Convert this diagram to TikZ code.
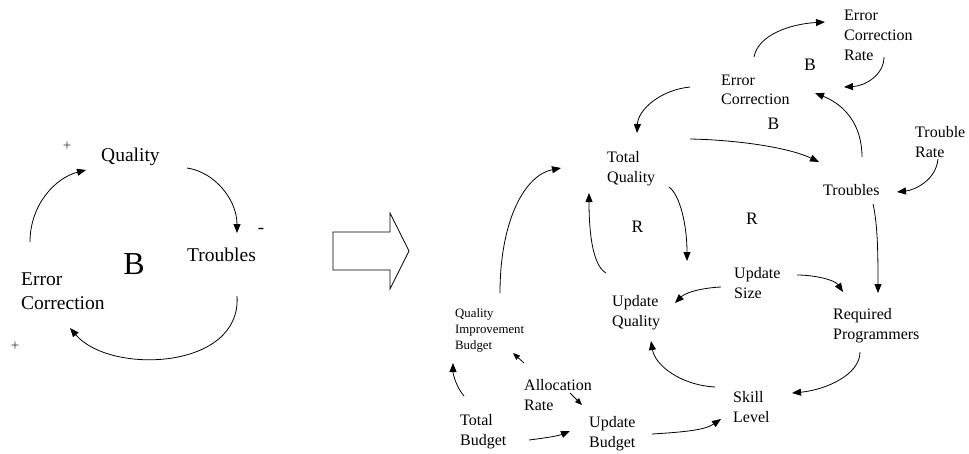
\documentclass[tikz,border=0pt]{standalone}
\usepackage{fontspec}
\setmainfont{Liberation Serif}
\usetikzlibrary{arrows.meta}
\tikzset{
  lbl/.style={inner sep=0pt, anchor=north west, align=left, font=\fontsize{16}{20}\selectfont},
  biglbl/.style={inner sep=0pt, anchor=north west, align=left, font=\fontsize{19.5}{24}\selectfont},
  smalllbl/.style={inner sep=0pt, anchor=north west, align=left, font=\fontsize{12.8}{16}\selectfont},
  looplbl/.style={inner sep=0pt, font=\fontsize{17.5}{20}\selectfont},
  sign/.style={inner sep=0pt, font=\fontsize{15}{16}\selectfont, text=black!80},
  link/.style={line width=0.8pt, -{Triangle[length=9pt,width=7pt]}},
  slink/.style={line width=0.8pt, -{Triangle[length=7pt,width=5.5pt]}},
}
\begin{document}
\begin{tikzpicture}[x=1pt,y=-1pt]
\useasboundingbox (0,0) rectangle (969,453);
% ---------- left diagram ----------
\node[biglbl] (lq) at (101,148) {Quality};
\node[biglbl] (lt) at (187,248) {Troubles};
\node[biglbl] (le) at (21,273) {Error\\Correction};
\node[inner sep=0pt, font=\fontsize{32}{36}\selectfont] (lb) at (134,264) {B};
\node[sign] (p1) at (67,146) {+};
\node[sign] (p2) at (15,346) {+};
\node[sign, font=\fontsize{19}{20}\selectfont, text=black] (m1) at (261,231) {-};
\draw[link] ([shift={(9,-31)}]le.north west) .. controls (30,205) and (55,178) .. ([shift={(-15,22)}]lq.north west);
\draw[link] ([shift={(86,20)}]lq.north west) .. controls (215,172) and (237,200) .. ([shift={(50,-15)}]lt.north west);
\draw[link] ([shift={(50,48)}]lt.north west) .. controls (242,370) and (110,375) .. ([shift={(49,55)}]le.north west);
% ---------- block arrow ----------
\draw[line width=0.8pt] (333,232) -- (390,232) -- (390,213) -- (409,251) -- (390,289) -- (390,270) -- (333,270) -- cycle;
% ---------- right diagram ----------
\node[lbl] (ecr) at (844,10) {Error\\Correction\\Rate};
\node[lbl, font=\fontsize{16}{19}\selectfont] (ec) at (721,75) {Error\\Correction};
\node[lbl] (tq) at (607,151) {Total\\Quality};
\node[lbl] (tr) at (915,126) {Trouble\\Rate};
\node[lbl] (tb) at (823,184) {Troubles};
\node[lbl] (us) at (734,267) {Update\\Size};
\node[lbl] (uq) at (612,295) {Update\\Quality};
\node[lbl] (rp) at (833,308) {Required\\Programmers};
\node[lbl] (sl) at (733,391) {Skill\\Level};
\node[lbl] (ar) at (524,379) {Allocation\\Rate};
\node[lbl] (tbud) at (460,414) {Total\\Budget};
\node[lbl] (ub) at (589,416) {Update\\Budget};
\node[smalllbl] (qib) at (455,308) {Quality\\Improvement\\Budget};
\node[looplbl] (b1) at (810,65) {B};
\node[looplbl] (b2) at (773.5,124) {B};
\node[looplbl] (r1) at (637.5,226.5) {R};
\node[looplbl] (r2) at (752,219) {R};
% connectors
\draw[link] ([shift={(33,-18)}]ec.north west) .. controls (758,35) and (790,24) .. ([shift={(-19,12)}]ecr.north west);
\draw[link] ([shift={(40,47)}]ecr.north west) .. controls (884,75) and (865,86) .. ([shift={(123,12)}]ec.north west);
\draw[link] ([shift={(39,-27)}]tb.north west) .. controls (862,125) and (845,105) .. ([shift={(94,18)}]ec.north west);
\draw[link] ([shift={(-31,12)}]ec.north west) .. controls (660,90) and (638,110) .. ([shift={(30,-18)}]tq.north west);
\draw[link] ([shift={(83,-12)}]tq.north west) .. controls (740,140) and (790,148) .. ([shift={(-4,-22)}]tb.north west);
\draw[link] ([shift={(23,33)}]tr.north west) .. controls (936,180) and (915,190) .. ([shift={(74,8)}]tb.north west);
\draw[link] ([shift={(45,-15)}]qib.north west) .. controls (500,220) and (525,175) .. ([shift={(-46,17)}]tq.north west);
\draw[link] ([shift={(62,36)}]tq.north west) .. controls (680,195) and (687,225) .. ([shift={(75,-34)}]uq.north west);
\draw[link] ([shift={(-6,-22)}]uq.north west) .. controls (592,265) and (589,230) .. ([shift={(-18,42)}]tq.north west);
\draw[link] ([shift={(50,20)}]tb.north west) .. controls (878,225) and (878,260) .. ([shift={(45,-15)}]rp.north west);
\draw[link] ([shift={(-13,20)}]us.north west) .. controls (700,288) and (685,293) .. ([shift={(63,8)}]uq.north west);
\draw[link] ([shift={(63,8)}]us.north west) .. controls (815,275) and (835,280) .. ([shift={(10,-16)}]rp.north west);
\draw[link] ([shift={(27,44)}]rp.north west) .. controls (860,375) and (825,390) .. ([shift={(59,2)}]sl.north west);
\draw[link] ([shift={(-18,-4)}]sl.north west) .. controls (680,385) and (655,365) .. ([shift={(39,46)}]uq.north west);
\draw[slink] ([shift={(0,-16)}]ar.north west) -- ([shift={(58,45)}]qib.north west);
\draw[slink] ([shift={(46,14)}]ar.north west) -- ([shift={(-7,-11)}]ub.north west);
\draw[link] ([shift={(4,-18)}]tbud.north west) .. controls (457,388) and (453,375) .. ([shift={(-2,55)}]qib.north west);
\draw[link] ([shift={(69,26)}]tbud.north west) .. controls (545,438) and (558,436) .. ([shift={(-19,15)}]ub.north west);
\draw[link] ([shift={(63,18)}]ub.north west) .. controls (685,432) and (705,430) .. ([shift={(-12,28)}]sl.north west);
\end{tikzpicture}
\end{document}
